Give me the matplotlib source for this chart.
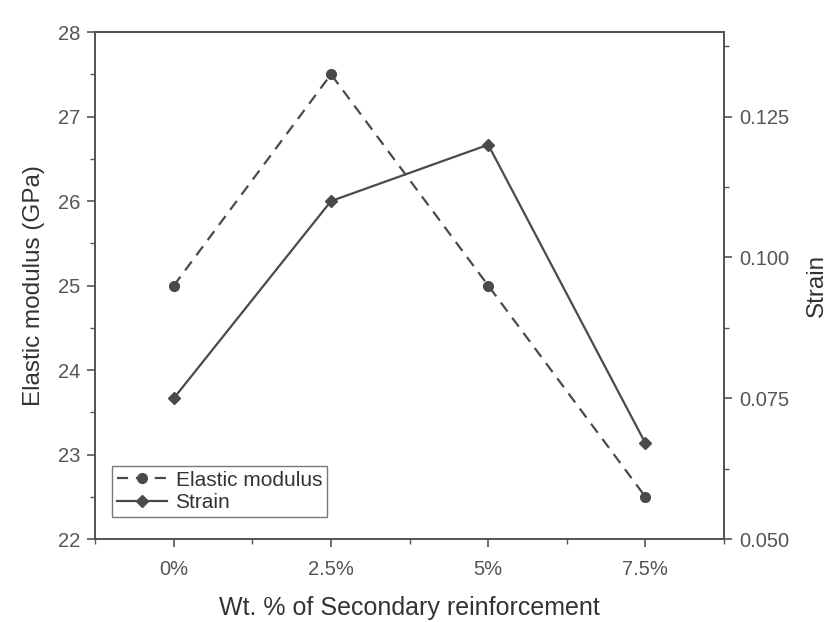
import matplotlib.pyplot as plt
from matplotlib.ticker import MultipleLocator

plt.rcParams["font.family"] = ["Liberation Sans", "DejaVu Sans"]

categories = ["0%", "2.5%", "5%", "7.5%"]
elastic_modulus = [25.0, 27.5, 25.0, 22.5]
strain = [0.075, 0.110, 0.120, 0.067]

line_color = "#4a4a4a"
text_color = "#333333"
axis_color = "#555555"

fig = plt.figure(figsize=(8.28, 6.22), dpi=100)
ax = fig.add_axes([0.115, 0.1334, 0.7594, 0.815])
ax2 = ax.twinx()

x = list(range(len(categories)))
l1, = ax.plot(x, elastic_modulus, linestyle=(0, (5, 3.5)), color=line_color,
              linewidth=1.6, marker="o", markersize=7, label="Elastic modulus")
l2, = ax2.plot(x, strain, linestyle="-", color=line_color, linewidth=1.6,
               marker="D", markersize=6.5, label="Strain")

ax.set_xlim(-0.5, 3.5)
ax.set_ylim(22, 28)
ax2.set_ylim(0.050, 0.140)

ax.set_xticks(x)
ax.set_xticklabels(categories)
ax.xaxis.set_minor_locator(MultipleLocator(0.5))
ax.yaxis.set_major_locator(MultipleLocator(1))
ax.yaxis.set_minor_locator(MultipleLocator(0.5))
ax2.set_yticks([0.050, 0.075, 0.100, 0.125])
ax2.set_yticklabels(["0.050", "0.075", "0.100", "0.125"])
ax2.yaxis.set_minor_locator(MultipleLocator(0.0125))

for a in (ax, ax2):
    for s in a.spines.values():
        s.set_color(axis_color)
        s.set_linewidth(1.3)
    a.tick_params(which="major", direction="out", length=6, width=1.2,
                  color=axis_color, labelsize=14.5, labelcolor="#555555", pad=5)
    a.tick_params(which="minor", direction="out", length=3.5, width=1.0,
                  color=axis_color)
ax.tick_params(axis="x", which="major", pad=9)

ax.set_xlabel("Wt. % of Secondary reinforcement", fontsize=18,
              color=text_color, labelpad=12)
ax.set_ylabel("Elastic modulus (GPa)", fontsize=17.5, color=text_color, labelpad=9)
ax2.set_ylabel("Strain", fontsize=17.5, color=text_color, labelpad=12)

leg = ax.legend(handles=[l1, l2], loc="lower left", bbox_to_anchor=(0.02, 0.035),
                fontsize=15, frameon=True, fancybox=False, handlelength=2.4,
                borderpad=0.25, labelspacing=0.15, handletextpad=0.4,
                borderaxespad=0.2)
leg.get_frame().set_edgecolor(axis_color)
leg.get_frame().set_linewidth(1.0)
for t in leg.get_texts():
    t.set_color(text_color)

fig.savefig("out.png", dpi=100)
